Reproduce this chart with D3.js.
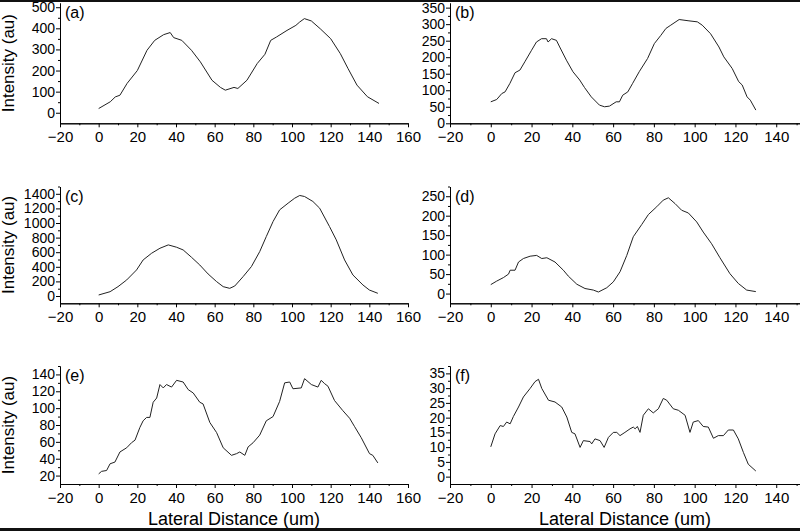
<!DOCTYPE html>
<html>
<head>
<meta charset="utf-8">
<script src="https://cdn.jsdelivr.net/npm/d3@7"></script>
<style>
body { margin: 0; background: #fff; }
svg { display: block; font-family: "Liberation Sans", Arial, sans-serif; }
</style>
</head>
<body>
<svg id="chart" width="800" height="531"></svg>
<script>
// profiles: lateral distance (um) / intensity (au)
const distA = [0, 6, 8.6, 11, 14.7, 20, 25, 29, 33.6, 37, 38.8, 43, 48, 52.6, 58.6, 63, 65.5, 70, 72, 76.7, 82, 86, 89, 92, 97.4, 102, 104, 106.4, 110, 114.6, 120, 125, 129, 133.6, 139, 145];
const intA = [20, 52, 75, 83, 139, 200, 296, 343, 370, 380, 356, 343, 296, 241, 154, 120, 107, 120, 115, 154, 233, 277, 343, 359, 390, 414, 430, 446, 435, 398, 351, 280, 209, 131, 76, 44];

const distB = [0, 2.9, 5.4, 7, 9.4, 11.9, 14.3, 16.7, 20, 22.4, 24.9, 27.3, 28.1, 29.8, 32.2, 33.8, 37.1, 40.3, 43.6, 46, 49.3, 53.3, 55.8, 58.2, 61.5, 63.1, 64.7, 67.2, 69.6, 72.8, 76.9, 80.2, 83.4, 85.9, 88.3, 92.4, 97.2, 101.3, 103.7, 107.8, 111.9, 114.3, 118.4, 121.6, 123.3, 125.7, 127.3, 130];
const intB = [65, 72, 90, 95, 121, 153, 161, 186, 221, 246, 256, 256, 246, 256, 251, 231, 191, 156, 131, 108, 80, 55, 50, 52, 65, 65, 85, 95, 121, 156, 196, 241, 266, 287, 297, 314, 310, 307, 297, 271, 231, 201, 166, 126, 116, 80, 70, 40];

const distC = [0, 5.9, 10, 14.5, 19.6, 23, 27.4, 31.7, 36, 40.3, 43.7, 48, 52.3, 56.6, 61, 64.4, 67.8, 70.4, 74.7, 79, 83.3, 86.7, 90.2, 93.6, 98, 101.4, 104, 106.5, 110.8, 114.3, 119.4, 122.9, 127.2, 131.5, 136.7, 140, 144.4];
const intC = [14, 59, 128, 220, 357, 494, 586, 654, 700, 668, 631, 531, 425, 302, 197, 128, 105, 137, 265, 403, 608, 814, 1020, 1180, 1272, 1340, 1377, 1363, 1295, 1203, 951, 769, 494, 288, 151, 82, 37];

const distD = [0, 2.9, 6.2, 8.7, 9.5, 11.9, 13.6, 16, 19.3, 22.5, 25, 27.5, 31.5, 35.6, 38, 42.2, 46.2, 50.3, 52.8, 56.9, 60.1, 63.4, 66.7, 69.9, 74, 77.3, 81.4, 84.6, 87.1, 90.4, 93.6, 96.9, 101, 104.2, 108.3, 112.4, 117.3, 121.4, 125.5, 130];
const intD = [23, 32, 41, 50, 60, 60, 81, 90, 96, 98, 90, 92, 81, 60, 45, 24, 13, 9, 4, 15, 30, 56, 98, 146, 177, 203, 223, 240, 246, 231, 214, 207, 184, 158, 128, 92, 51, 26, 9, 5];

const distE = [0, 1.5, 4.1, 5.9, 8.4, 11, 14.5, 17, 18.8, 21.3, 23, 24.8, 26.5, 28.2, 30, 31.7, 33.4, 35.1, 37.7, 40.3, 43.7, 46.3, 48.9, 52.3, 54, 57.5, 61, 64.4, 68.7, 71.3, 73, 75.6, 77.3, 79.9, 83.3, 86.7, 90.2, 93.6, 96.2, 98.8, 100.5, 104.8, 106.5, 110, 113.4, 115.1, 116.9, 118.6, 122, 126.3, 129.8, 132.4, 135.8, 140.1, 141.8, 144.4];
const intE = [22, 25, 26, 34, 36, 48, 53, 59, 62, 77, 85, 89, 89, 107, 112, 128, 124, 128, 125, 133, 131, 122, 118, 107, 105, 83, 71, 53, 44, 46, 48, 44, 54, 59, 68, 85, 90, 108, 130, 131, 123, 124, 135, 128, 125, 133, 129, 126, 109, 97, 88, 78, 65, 46, 44, 35];

const distF = [0, 2.1, 4.6, 6.2, 7.8, 9.5, 11.1, 13.6, 16, 19.3, 21.7, 23.4, 25, 28.3, 31.5, 34.8, 37.3, 39.7, 41.3, 43.8, 45.4, 48.7, 49.5, 51.1, 53.6, 55.6, 57.7, 60.1, 61.8, 63.4, 65.8, 68.3, 69.9, 70.8, 71.9, 73.2, 74.8, 77.3, 79.7, 82.2, 84.6, 86.3, 89.5, 92, 95.3, 97.7, 99.3, 101.8, 104.2, 106.7, 109.2, 111.6, 114.1, 116.5, 119, 121.4, 123.9, 126.3, 130];
const intF = [10.1, 14.5, 17.3, 17, 18.5, 17.9, 20.4, 23.6, 27, 29.9, 32.2, 33, 29.9, 25.9, 25.3, 23.6, 20.2, 15, 14.5, 9.9, 12.2, 11.9, 11.1, 12.8, 12.2, 9.9, 13.3, 15, 15, 13.9, 15, 16.2, 16.8, 16.2, 17, 15, 20.8, 23, 21.6, 23, 26.5, 25.9, 23, 22.5, 20.8, 15, 18.5, 19, 17, 16.8, 13, 13.9, 13.9, 15.8, 15.8, 12.8, 8.2, 4.2, 1.9];

// tick labels (the right column is cut by the page edge before 160)
const xTicksLeft = [-20, 0, 20, 40, 60, 80, 100, 120, 140, 160];
const xTicksRight = [-20, 0, 20, 40, 60, 80, 100, 120, 140];
const yTicksA = [0, 100, 200, 300, 400, 500];
const yTicksB = [0, 50, 100, 150, 200, 250, 300, 350];
const yTicksC = [0, 200, 400, 600, 800, 1000, 1200, 1400];
const yTicksD = [0, 50, 100, 150, 200, 250];
const yTicksE = [20, 40, 60, 80, 100, 120, 140];
const yTicksF = [0, 5, 10, 15, 20, 25, 30, 35];

const svg = d3.select("#chart");

// layout of the six frames
const cols = [{x0: 60, x1: 408, ticks: xTicksLeft}, {x0: 450, x1: 817, ticks: xTicksRight}];
const rows = [{top: 3, bottom: 123.3}, {top: 186.5, bottom: 303.3}, {top: 366, bottom: 484}];

const panels = [
  {tag: "(a)", col: 0, row: 0, xs: distA, ys: intA, yDom: [-50, 520], yTicks: yTicksA},
  {tag: "(b)", col: 1, row: 0, xs: distB, ys: intB, yDom: [0, 364], yTicks: yTicksB},
  {tag: "(c)", col: 0, row: 1, xs: distC, ys: intC, yDom: [-100, 1500], yTicks: yTicksC},
  {tag: "(d)", col: 1, row: 1, xs: distD, ys: intD, yDom: [-25, 275], yTicks: yTicksD},
  {tag: "(e)", col: 0, row: 2, xs: distE, ys: intE, yDom: [10, 150], yTicks: yTicksE},
  {tag: "(f)", col: 1, row: 2, xs: distF, ys: intF, yDom: [-2.5, 37.5], yTicks: yTicksF}
];

function midpoints(t, dom) {
  const step = t[1] - t[0];
  const out = [];
  for (let v = t[0] - step / 2; v <= dom[1]; v += step) {
    if (v > dom[0] && !t.includes(v)) out.push(v);
  }
  return out;
}

panels.forEach(p => {
  const c = cols[p.col], r = rows[p.row];
  const x = d3.scaleLinear().domain([-20, 160]).range([c.x0, c.x1]);
  const y = d3.scaleLinear().domain(p.yDom).range([r.bottom, r.top]);
  const g = svg.append("g");

  // minor ticks first, then the labelled axes
  g.append("g").attr("transform", `translate(0,${r.bottom})`)
    .call(d3.axisBottom(x).tickValues(midpoints(xTicksLeft, [-20, 160])).tickSize(2).tickSizeOuter(0).tickFormat(""));
  g.append("g").attr("transform", `translate(${c.x0},0)`)
    .call(d3.axisLeft(y).tickValues(midpoints(p.yTicks, p.yDom)).tickSize(2).tickSizeOuter(0).tickFormat(""));

  const xa = g.append("g").attr("transform", `translate(0,${r.bottom})`)
    .call(d3.axisBottom(x).tickValues(c.ticks).tickSize(4).tickSizeOuter(0).tickPadding(4).tickFormat(d3.format("d")));
  const ya = g.append("g").attr("transform", `translate(${c.x0},0)`)
    .call(d3.axisLeft(y).tickValues(p.yTicks).tickSize(4).tickSizeOuter(0).tickPadding(1).tickFormat(d3.format("d")));

  xa.selectAll(".tick text").attr("font-size", 15);
  ya.selectAll(".tick text").attr("font-size", 14);
  g.selectAll(".tick text").attr("fill", "#000")
    .attr("font-family", "'Liberation Sans', Arial, sans-serif");
  g.selectAll(".domain, .tick line").attr("stroke", "#000");

  g.append("text").attr("x", c.x0 + 5).attr("y", r.top + 15)
    .attr("font-size", 16).text(p.tag);

  g.append("path")
    .datum(d3.zip(p.xs, p.ys))
    .attr("fill", "none").attr("stroke", "#222").attr("stroke-width", 1)
    .attr("d", d3.line().x(d => x(d[0])).y(d => y(d[1])));

  if (p.col === 0) {
    g.append("text")
      .attr("transform", `translate(14,${(r.top + r.bottom) / 2}) rotate(-90)`)
      .attr("text-anchor", "middle").attr("font-size", 17)
      .text("Intensity (au)");
  }
});

svg.append("text").attr("x", 234).attr("y", 525).attr("text-anchor", "middle")
  .attr("font-size", 18).text("Lateral Distance (um)");
svg.append("text").attr("x", 625).attr("y", 525).attr("text-anchor", "middle")
  .attr("font-size", 18).text("Lateral Distance (um)");

// dark edges of the scanned figure
svg.append("rect").attr("x", 0).attr("y", 0).attr("width", 800).attr("height", 2).attr("fill", "#111");
svg.append("rect").attr("x", 0).attr("y", 528).attr("width", 800).attr("height", 3).attr("fill", "#111");
</script>
</body>
</html>
